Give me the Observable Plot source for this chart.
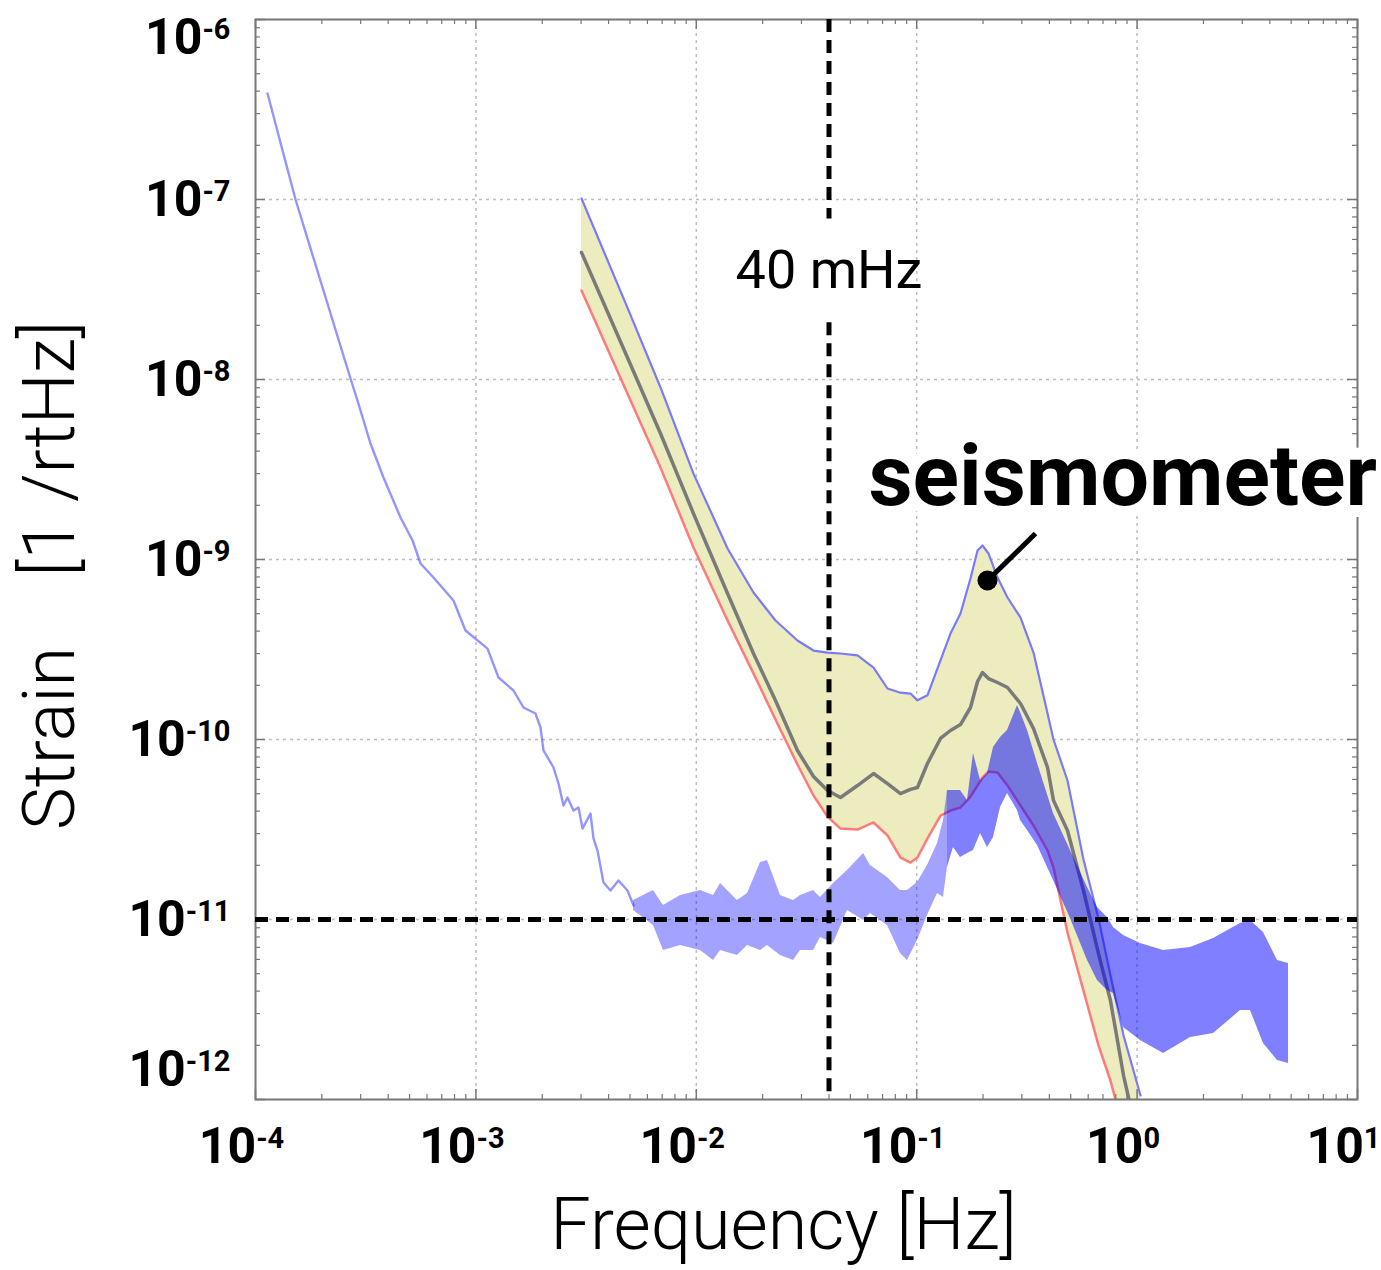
<!DOCTYPE html>
<html>
<head>
<meta charset="utf-8">
<script src="https://cdn.jsdelivr.net/npm/d3@7"></script>
<script src="https://cdn.jsdelivr.net/npm/@observablehq/plot@0.6"></script>
<style>
  html, body { margin: 0; padding: 0; background: #fff; }
  #chart svg { overflow: visible; display: block; }
</style>
</head>
<body>
<div id="chart"></div>
<script>
// ---------- data ----------
// axis decades
const xTicks = [1e-4, 1e-3, 1e-2, 1e-1, 1, 10];
const yTicks = [1e-12, 1e-11, 1e-10, 1e-9, 1e-8, 1e-7, 1e-6];

// low-frequency (thin) part of the blue strain spectrum
const blueLineFreq = [1.134e-4, 1.519e-4, 2.698e-4, 2.903e-4, 3.324e-4, 3.808e-4, 4.549e-4, 5.159e-4, 5.607e-4, 6.42e-4,
  7.91e-4, 8.97e-4, 1.129e-3, 1.266e-3, 1.481e-3, 1.644e-3, 1.864e-3, 1.964e-3, 2.026e-3, 2.249e-3,
  2.37e-3, 2.497e-3, 2.603e-3, 2.772e-3, 2.921e-3, 3.047e-3, 3.311e-3, 3.416e-3, 3.562e-3, 3.792e-3,
  4.08e-3, 4.436e-3, 4.87e-3, 5.19e-3];
const blueLineStrain = [3.88e-7, 1.0e-7, 1.013e-8, 7.64e-9, 4.41e-9, 2.855e-9, 1.711e-9, 1.275e-9, 9.5e-10, 7.94e-10,
  5.92e-10, 4.03e-10, 3.2e-10, 2.21e-10, 1.872e-10, 1.506e-10, 1.394e-10, 1.166e-10, 8.69e-11, 6.99e-11,
  5.69e-11, 4.3e-11, 4.76e-11, 4.03e-11, 4.19e-11, 3.2e-11, 3.88e-11, 2.82e-11, 2.417e-11, 1.606e-11,
  1.449e-11, 1.647e-11, 1.449e-11, 1.196e-11];

// noisy part of the blue spectrum: upper / lower envelopes
const noiseFreq = [5.19e-3, 6.39e-3, 7.10e-3, 8.48e-3, 1.045e-2, 1.197e-2, 1.288e-2, 1.537e-2, 1.708e-2, 1.956e-2,
  2.104e-2, 2.41e-2, 2.761e-2, 2.97e-2, 3.402e-2, 3.66e-2, 4.194e-2, 4.853e-2, 5.74e-2, 6.17e-2,
  7.37e-2, 8.44e-2, 9.08e-2, 0.1008, 0.1119, 0.1243, 0.1323, 0.1379, 0.1468, 0.158,
  0.170, 0.181, 0.1948, 0.2095, 0.2231, 0.240, 0.2582, 0.2867, 0.2958, 0.3183,
  0.3533, 0.4175, 0.4985, 0.5957, 0.661, 0.734, 0.7815, 0.868, 1.036, 1.318,
  1.747, 2.222, 2.945, 3.269, 3.746, 4.335, 4.864];
const noiseHigh = [1.275e-11, 1.449e-11, 1.196e-11, 1.359e-11, 1.449e-11, 1.359e-11, 1.585e-11, 1.275e-11, 1.394e-11, 2.073e-11,
  2.127e-11, 1.359e-11, 1.275e-11, 1.359e-11, 1.449e-11, 1.325e-11, 1.585e-11, 1.872e-11, 2.326e-11, 1.995e-11,
  1.711e-11, 1.449e-11, 1.449e-11, 1.606e-11, 1.995e-11, 2.643e-11, 3.55e-11, 5.21e-11, 5.21e-11, 5.21e-11,
  4.58e-11, 8.36e-11, 5.92e-11, 6.47e-11, 9.03e-11, 1.026e-10, 1.122e-10, 1.545e-10, 1.413e-10, 1.122e-10,
  7.36e-11, 3.88e-11, 2.417e-11, 1.506e-11, 1.166e-11, 1.026e-11, 9.03e-12, 8.15e-12, 7.36e-12, 6.73e-12,
  6.99e-12, 7.84e-12, 9.5e-12, 9.87e-12, 8.47e-12, 5.92e-12, 5.69e-12];
const noiseLow = [1.122e-11, 9.26e-12, 6.73e-12, 7.17e-12, 6.73e-12, 5.92e-12, 6.73e-12, 6.31e-12, 7.17e-12, 6.73e-12,
  7.17e-12, 6.31e-12, 5.92e-12, 6.73e-12, 6.73e-12, 7.94e-12, 7.36e-12, 1.122e-11, 9.87e-12, 1.08e-11,
  9.26e-12, 6.47e-12, 5.92e-12, 7.64e-12, 1.052e-11, 1.394e-11, 1.325e-11, 1.945e-11, 2.51e-11, 2.21e-11,
  2.326e-11, 2.417e-11, 3.005e-11, 2.51e-11, 2.855e-11, 4.19e-11, 5.01e-11, 4.03e-11, 3.55e-11, 3.12e-11,
  2.577e-11, 1.647e-11, 1.013e-11, 5.92e-12, 4.58e-12, 4.03e-12, 3.88e-12, 2.51e-12, 2.127e-12, 1.8e-12,
  2.21e-12, 2.326e-12, 3.12e-12, 3.12e-12, 2.047e-12, 1.647e-12, 1.585e-12];
const noiseSplitFreq = 0.1379; // lighter, sparse noise below this frequency

// seismometer band: upper (blue edge), median (gray), lower (red edge)
const bandFreq = [3.014e-3, 4.87e-3, 6.88e-3, 9.71e-3, 1.386e-2, 1.817e-2, 2.287e-2, 2.877e-2, 3.402e-2, 3.939e-2,
  4.511e-2, 5.387e-2, 6.37e-2, 7.37e-2, 8.44e-2, 9.37e-2, 0.1008, 0.1119, 0.1282, 0.1423,
  0.158, 0.1754, 0.1888, 0.1988, 0.2117, 0.2326, 0.2582, 0.2958, 0.3388, 0.3923,
  0.4175, 0.4832, 0.571, 0.668, 0.757, 0.868, 1.036];
const bandUpper = [1.013e-7, 2.51e-8, 9.03e-9, 3.0e-9, 1.151e-9, 6.56e-10, 4.58e-10, 3.55e-10, 3.12e-10, 3.04e-10,
  3.005e-10, 2.93e-10, 2.51e-10, 1.92e-10, 1.82e-10, 1.8e-10, 1.65e-10, 1.76e-10, 2.75e-10, 3.88e-10,
  5.01e-10, 7.84e-10, 1.122e-9, 1.196e-9, 1.08e-9, 7.94e-10, 6.15e-10, 4.76e-10, 3.04e-10, 1.394e-10,
  1.0e-10, 5.92e-11, 2.154e-11, 1.013e-11, 4.886e-12, 2.268e-12, 1.052e-12];
const bandMid = [5.08e-8, 1.325e-8, 5.01e-9, 1.8e-9, 6.47e-10, 3.005e-10, 1.647e-10, 8.69e-11, 6.23e-11, 5.21e-11,
  4.76e-11, 5.55e-11, 6.47e-11, 5.69e-11, 5.01e-11, 5.28e-11, 5.41e-11, 7.36e-11, 1.013e-10, 1.122e-10,
  1.211e-10, 1.506e-10, 2.1e-10, 2.356e-10, 2.18e-10, 2.073e-10, 1.945e-10, 1.585e-10, 1.151e-10, 6.99e-11,
  4.58e-11, 3.12e-11, 1.449e-11, 6.47e-12, 3.55e-12, 1.359e-12, 5.21e-13];
const bandLower = [3.12e-8, 8.36e-9, 3.24e-9, 1.166e-9, 4.58e-10, 2.33e-10, 1.291e-10, 7.26e-11, 4.886e-11, 3.73e-11,
  3.2e-11, 3.16e-11, 3.46e-11, 2.93e-11, 2.21e-11, 2.073e-11, 2.21e-11, 2.82e-11, 3.78e-11, 4.03e-11,
  4.19e-11, 4.82e-11, 5.55e-11, 6.15e-11, 6.64e-11, 6.56e-11, 5.55e-11, 4.3e-11, 3.33e-11, 2.417e-11,
  1.945e-11, 8.47e-12, 4.03e-12, 2.0e-12, 1.275e-12, 6.73e-13, 3.12e-13];

// reference lines and annotations
const markerFreq = 0.04;          // 40 mHz
const targetStrain = 1e-11;       // horizontal dashed level
const markerLineSegments = [{y1: 1e-6, y2: 7.8e-8}, {y1: 2.07e-8, y2: 1e-12}];
const markerLabel = {f: 0.04, s: 4.03e-8, text: "40 mHz"};
const peakDot = {f: 0.2095, s: 7.64e-10};
const leaderEnd = {f: 0.346, s: 1.394e-9};
const seisLabel = {f: 0.0604, s: 2.87e-9, text: "seismometer"};

// ---------- tables for the library ----------
const blueLine = blueLineFreq.map((f, i) => ({f, s: blueLineStrain[i]}));
const noise = noiseFreq.map((f, i) => ({f, hi: noiseHigh[i], lo: noiseLow[i]}));
const noiseSparse = noise.filter(d => d.f <= noiseSplitFreq);
const noiseDense = noise.filter(d => d.f >= noiseSplitFreq);
const band = bandFreq.map((f, i) => ({f, up: bandUpper[i], mid: bandMid[i], lo: bandLower[i]}));

const decadesX = [1e-4, 1e-3, 1e-2, 1e-1, 1];
const minorX = decadesX.flatMap(d => [2,3,4,5,6,7,8,9].map(k => k * d));
const decadesY = [1e-12, 1e-11, 1e-10, 1e-9, 1e-8, 1e-7];
const minorY = decadesY.flatMap(d => [2,3,4,5,6,7,8,9].map(k => k * d));

const W = 1381, H = 1270;
const mTop = 19, mRight = 24, mBottom = 171, mLeft = 255;
const plotW = W - mLeft - mRight, plotH = H - mTop - mBottom;

const expFmt = d => "10^" + Math.round(Math.log10(d));
const frameColor = "#777";

const chart = Plot.plot({
  width: W, height: H,
  marginTop: mTop, marginRight: mRight, marginBottom: mBottom, marginLeft: mLeft,
  x: {type: "log", domain: [1e-4, 10]},
  y: {type: "log", domain: [1e-12, 1e-6]},
  style: {background: "white", overflow: "visible", fontFamily: "Roboto, 'Liberation Sans', sans-serif", color: "black"},
  marks: [
    // dotted grid
    Plot.gridX(xTicks.slice(1, -1), {stroke: "#bdbdbd", strokeOpacity: 1, strokeWidth: 1.5, strokeDasharray: "3,4"}),
    Plot.gridY(yTicks.slice(1, -1), {stroke: "#bdbdbd", strokeOpacity: 1, strokeWidth: 1.5, strokeDasharray: "3,4"}),

    // seismometer band
    Plot.areaY(band, {x: "f", y1: "lo", y2: "up", fill: "#ececbe", clip: true}),
    Plot.lineY(band, {x: "f", y: "up", stroke: "#7a7aff", strokeWidth: 2.2, clip: true}),
    Plot.lineY(band, {x: "f", y: "mid", stroke: "#7a7a7a", strokeWidth: 3.5, clip: true}),
    Plot.lineY(band, {x: "f", y: "lo", stroke: "#ff7a7a", strokeWidth: 2.5, clip: true}),

    // blue strain spectrum
    Plot.areaY(noiseSparse, {x: "f", y1: "lo", y2: "hi", fill: "blue", fillOpacity: 0.36, clip: true}),
    Plot.areaY(noiseDense, {x: "f", y1: "lo", y2: "hi", fill: "blue", fillOpacity: 0.5, clip: true}),
    Plot.lineY(blueLine, {x: "f", y: "s", stroke: "blue", strokeOpacity: 0.42, strokeWidth: 2.4, clip: true}),

    // frame and inward ticks
    Plot.frame({stroke: frameColor, strokeWidth: 2}),
    Plot.tickX(minorX, {x: d => d, insetTop: plotH - 5, stroke: frameColor, strokeWidth: 1.2}),
    Plot.tickX(minorX, {x: d => d, insetBottom: plotH - 5, stroke: frameColor, strokeWidth: 1.2}),
    Plot.tickY(minorY, {y: d => d, insetRight: plotW - 5, stroke: frameColor, strokeWidth: 1.2}),
    Plot.tickY(minorY, {y: d => d, insetLeft: plotW - 5, stroke: frameColor, strokeWidth: 1.2}),
    Plot.tickX(xTicks, {x: d => d, insetTop: plotH - 10, stroke: frameColor, strokeWidth: 1.5}),
    Plot.tickX(xTicks, {x: d => d, insetBottom: plotH - 10, stroke: frameColor, strokeWidth: 1.5}),
    Plot.tickY(yTicks, {y: d => d, insetRight: plotW - 10, stroke: frameColor, strokeWidth: 1.5}),
    Plot.tickY(yTicks, {y: d => d, insetLeft: plotW - 10, stroke: frameColor, strokeWidth: 1.5}),

    // dashed reference lines
    Plot.ruleY([targetStrain], {stroke: "black", strokeWidth: 5, strokeDasharray: "13,8"}),
    Plot.ruleX(markerLineSegments, {x: () => markerFreq, y1: "y1", y2: "y2", stroke: "black", strokeWidth: 5, strokeDasharray: "13,8"}),
    Plot.text([markerLabel], {x: "f", y: "s", text: "text", fontSize: 54, fill: "black"}),

    // annotation
    Plot.link([{x1: peakDot.f, y1: peakDot.s, x2: leaderEnd.f, y2: leaderEnd.s}], {x1: "x1", y1: "y1", x2: "x2", y2: "y2", stroke: "black", strokeWidth: 5}),
    Plot.dot([peakDot], {x: "f", y: "s", r: 10, fill: "black"}),
    Plot.text([seisLabel], {x: "f", y: "s", text: "text", textAnchor: "start", fontSize: 86, fontWeight: 700, fill: "black", stroke: "white", strokeWidth: 24}),

    // axes
    Plot.axisX(xTicks, {anchor: "bottom", tickSize: 0, tickPadding: 28, fontSize: 50, fontWeight: 700, dx: -14, tickFormat: expFmt, label: null}),
    Plot.axisY(yTicks, {anchor: "left", tickSize: 0, tickPadding: 25, fontSize: 50, fontWeight: 700, tickFormat: expFmt, label: null}),

    // axis titles
    Plot.text(["Frequency [Hz]"], {frameAnchor: "bottom", lineAnchor: "middle", textAnchor: "middle", dy: 126, dx: -23, fontSize: 72, fontWeight: 300, fill: "black"}),
    Plot.text(["Strain\u00a0\u00a0\u00a0 [1 /rtHz]"], {frameAnchor: "left", lineAnchor: "middle", textAnchor: "middle", rotate: -90, dx: -205, dy: 16, fontSize: 72, fontWeight: 300, fill: "black"})
  ]
});

// turn "10^n" tick labels into real superscripts; keep end labels inside the figure
const ns = "http://www.w3.org/2000/svg";
const endNudge = {"10^-6": 18, "10^-12": -30};
chart.querySelectorAll('[aria-label="x-axis tick label"] text, [aria-label="y-axis tick label"] text').forEach(t => {
  const s = t.textContent;
  const m = s.match(/^10\^(.+)$/);
  if (!m) return;
  t.textContent = "";
  const base = document.createElementNS(ns, "tspan");
  base.textContent = "10";
  const sup = document.createElementNS(ns, "tspan");
  sup.textContent = m[1];
  sup.setAttribute("dy", "-15");
  sup.setAttribute("font-size", "29");
  t.appendChild(base);
  t.appendChild(sup);
  if (t.closest('[aria-label="y-axis tick label"]') && endNudge[s] !== undefined) {
    const tr = t.getAttribute("transform") || "";
    t.setAttribute("transform", `translate(0,${endNudge[s]}) ${tr}`);
  }
});

document.getElementById("chart").appendChild(chart);
</script>
</body>
</html>
